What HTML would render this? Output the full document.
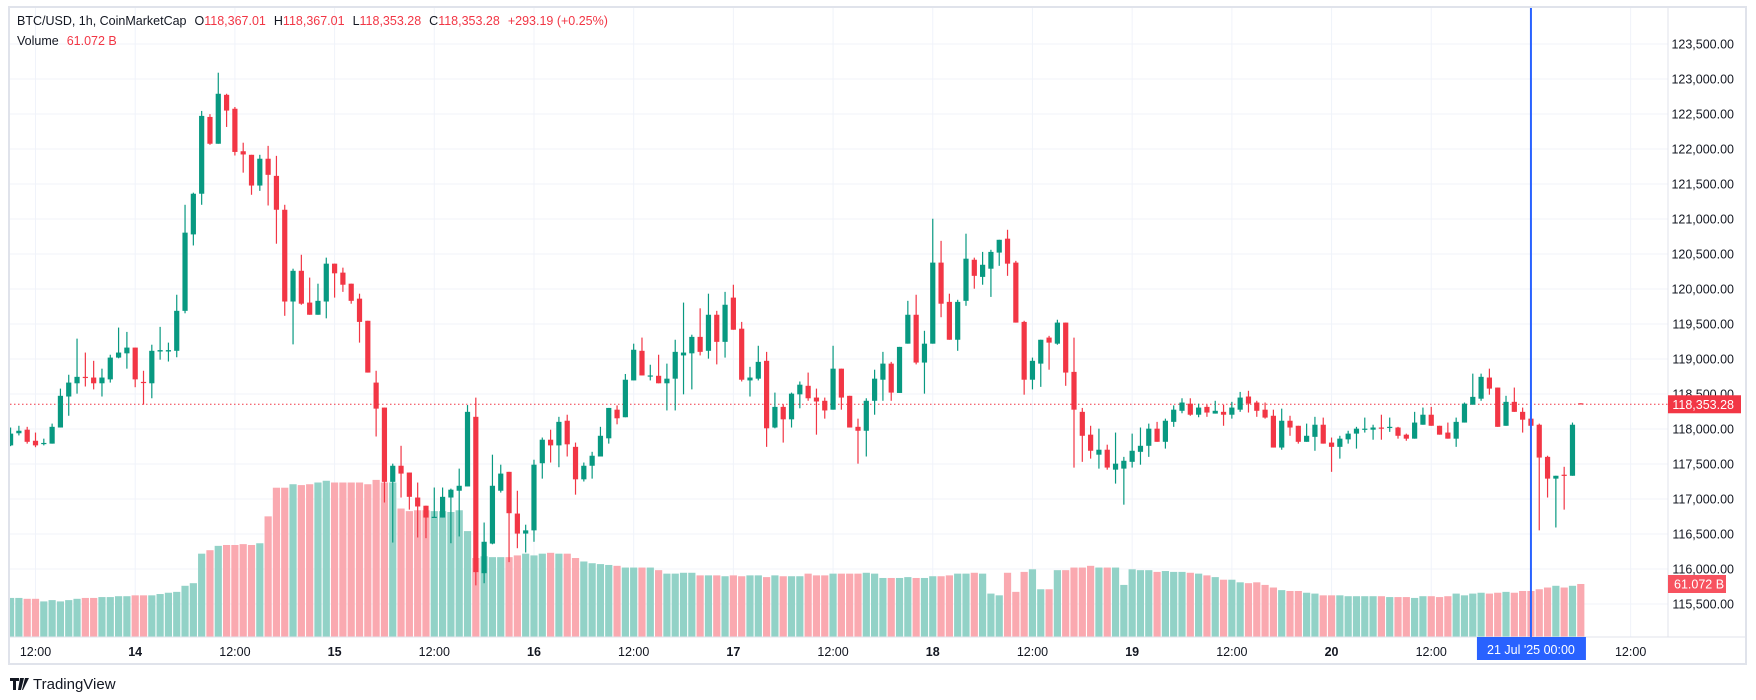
<!DOCTYPE html>
<html><head><meta charset="utf-8"><style>
html,body{margin:0;padding:0;background:#fff;}
svg{display:block;font-family:"Liberation Sans",Arial,sans-serif;}
</style></head><body>
<svg id="chart" width="1756" height="700" viewBox="0 0 1756 700" xmlns="http://www.w3.org/2000/svg">
<defs><clipPath id="plotclip"><rect x="10" y="8" width="1658" height="629"/></clipPath></defs>
<rect x="9" y="7" width="1737" height="657" fill="#fff" stroke="#e0e3eb" stroke-width="2"/>
<g id="grid"></g>
<g id="vol" clip-path="url(#plotclip)"></g>
<g id="candles" clip-path="url(#plotclip)"></g>
<line x1="10" y1="637" x2="1746" y2="637" stroke="#e0e3eb" stroke-width="1"/>
<line x1="1668" y1="8" x2="1668" y2="637" stroke="#e0e3eb" stroke-width="1"/>
<line id="cursorline" x1="1531" y1="8" x2="1531" y2="637" stroke="#2962ff" stroke-width="2"/>
<g id="yaxis"></g>
<g id="xaxis"></g>
<g id="tags"></g>
<text x="17" y="25" font-size="12.5" fill="#131722">BTC/USD, 1h, CoinMarketCap<tspan dx="8">O</tspan><tspan fill="#f23645">118,367.01</tspan><tspan dx="8">H</tspan><tspan fill="#f23645">118,367.01</tspan><tspan dx="8">L</tspan><tspan fill="#f23645">118,353.28</tspan><tspan dx="8">C</tspan><tspan fill="#f23645">118,353.28</tspan><tspan dx="8" fill="#f23645">+293.19 (+0.25%)</tspan></text>
<text x="17" y="45" font-size="12.5" fill="#131722">Volume<tspan dx="8" fill="#f23645">61.072 B</tspan></text>
<g>
<path d="M10 678 h9 v3 h-3 v9 h-3 v-9 h-3z M20 678 h4 l-3 12 h-3z M25 678 h4 l-6 12 h-1z" fill="#131722"/>
<text x="33" y="689" font-size="15" fill="#131722">TradingView</text>
</g>
</svg>
<script>
const opens=[117766,117939,117990,117832,117791,117791,118021,118464,118653,118745,118735,118653,118709,119020,119081,119163,118673,118653,119107,119107,119117,119688,120780,121361,122458,122075,122774,122575,121968,121917,121478,121861,121616,121132,119821,120260,119806,119632,119821,120362,120234,120076,119862,119546,118663,118306,117245,117475,117378,117021,116904,116735,116735,117021,117118,117179,118174,115940,116363,117118,117388,116792,116506,116552,117511,117847,117766,118118,117745,117281,117475,117607,117867,118276,118168,118694,119117,118750,118760,118653,118719,119051,119081,119316,119117,119632,119245,119877,119433,118694,118719,118974,118021,118316,118138,118495,118617,118449,118403,118276,118862,118474,118031,117975,118403,118704,118934,118515,119219,119632,118949,119219,120377,119816,119275,119831,120418,120173,120290,120520,120719,120377,119530,118704,118934,119306,119219,119520,118816,118245,117919,117633,117704,117419,117434,117531,117674,117760,118005,117817,118102,118260,118362,118204,118316,118220,118245,118204,118276,118464,118378,118276,118189,117735,118118,118046,117817,117888,118061,117806,117745,117852,117934,117990,117990,118021,118021,118021,117919,117862,118061,118204,118046,117949,117862,118092,118347,118433,118735,118592,118046,118388,118245,118148,118061,117602,117291,117347,117332,118367];
const closes=[117934,117975,117817,117766,117801,118031,118474,118663,118745,118735,118653,118735,119020,119092,119163,118709,118663,119117,119127,119127,119688,120805,121361,122473,122075,122789,122549,121958,121922,121478,121861,121631,121132,119821,120260,119790,119632,119831,120362,120224,120061,119831,119530,118806,118291,117245,117475,117363,117031,116893,116735,116746,117031,117133,117189,118245,115955,116389,117189,117363,116797,116506,116552,117490,117847,117766,118102,117781,117281,117475,117618,117903,118301,118153,118704,119132,118765,118765,118653,118719,119102,119092,119316,119102,119632,119245,119775,119418,118704,118735,118959,118010,118316,118138,118505,118633,118439,118393,118265,118862,118449,118021,117975,118403,118719,118934,118520,119173,119632,118949,119219,120377,119790,119275,119816,120433,120188,120346,120530,120703,120362,119520,118704,118974,119275,119234,119520,118806,118276,117903,117689,117704,117449,117505,117546,117689,117760,118005,117817,118118,118276,118378,118204,118306,118235,118260,118204,118306,118449,118362,118260,118163,117735,118118,118021,117817,117903,118061,117791,117745,117862,117934,118005,118005,118021,118010,118031,117903,117862,118092,118204,118046,117919,117862,118102,118362,118459,118745,118577,118031,118388,118245,118133,118046,117592,117291,117332,117332,118061,118353];
const highs=[118021,118046,118031,117949,117862,118077,118577,118775,119291,119092,118974,118862,119061,119449,119387,119163,118832,119204,119459,119234,119918,121203,121376,122544,122498,123090,122789,122600,122090,121917,121917,122045,121902,121203,120290,120489,120163,120076,120448,120362,120305,120076,119933,119546,118832,118306,117505,117760,117378,117235,116904,117164,117164,117148,117434,118342,118449,116664,117633,117490,117388,117118,116633,117561,117878,117990,118174,118204,117806,117521,117674,118031,118301,118337,118786,119219,119306,118918,119061,118934,119275,119806,119347,119724,119933,119688,119959,120061,119530,118888,119189,119102,118520,118352,118520,118679,118806,118577,118449,119189,118862,118474,118148,118439,118847,119102,118959,119173,119831,119918,119403,121004,120688,119933,119846,120790,120448,120530,120560,120703,120846,120402,119546,119020,119275,119331,119561,119520,119306,118301,118046,118005,117776,117949,117602,117934,118021,118077,118102,118148,118337,118439,118439,118362,118347,118403,118347,118388,118530,118546,118403,118378,118276,118291,118189,118046,118077,118174,118163,117878,117903,117975,118031,118163,118061,118204,118163,118031,117934,118245,118306,118316,118046,118092,118163,118378,118791,118791,118862,118592,118474,118592,118306,118148,118077,117618,117332,117460,118092,118367];
const lows=[117755,117908,117791,117740,117766,117791,118021,118189,118505,118607,118566,118464,118663,119010,118862,118597,118347,118439,118990,118964,119025,119653,120622,121203,122060,122075,122315,121907,121662,121346,121402,121193,120647,119617,119209,119775,119632,119632,119581,119877,119959,119790,119234,118806,117893,116950,116378,117021,116848,116450,116440,116735,116735,116368,116465,117179,115766,115797,116353,117092,116098,116297,116236,116389,117291,117521,117454,117607,117062,117250,117291,117607,117791,118067,118168,118694,118765,118694,118653,118265,118265,118495,118566,119051,119005,118923,119020,119418,118679,118464,118694,117745,118010,117806,118021,118296,118403,117919,118148,118276,118276,118021,117505,117607,118204,118403,118403,118515,119219,118923,118505,119219,119597,119275,119117,119760,120004,120061,119887,120331,120188,119520,118490,118566,118602,118847,119204,118617,117449,117531,117577,117434,117419,117220,116919,117449,117490,117602,117817,117720,118031,118225,118189,118168,118174,118220,118046,118148,118245,118235,118174,118148,117735,117704,117903,117791,117817,117689,117791,117388,117577,117791,117720,117949,117847,117847,117959,117862,117832,117862,118061,118046,117919,117862,117745,118092,118347,118403,118490,118031,118046,118245,117949,117878,116552,117021,116593,116848,117332,118353];
const volumes=[45,45,44,44,41,42.5,41,42.5,44,45,45,46,46,47,47,48,48,48,49.5,51,52,59,62,96,100,105,106,106,107,106,108,139,172,172,176,175,176,178,180,178,178,178,178,176,181,178,178,148,145,146,146,145,145,144,146,122,91,93,92,92,92,94,96,94,96,97,96,96,91,87,85,84,83,82,80,80,80,80,77,73,73,74,74,71,71,71,70,71,70,71,71,69,71,70,70,70,73,71,71,73,73,73,73,74,73,68,68,68,69,68,68,70,70,71,73,73,74,73,50,48,74,52,75,78,55,55,77,77,80,80,82,80,80,80,60,78,77,77,75,76,75,75,74,73,71,69,66,66,63,62,63,60,57,54,53,53,51,50,48,48,48,47,47,47,47,47,46,46,46,45,47,47,46,47,50,48,50,51,50,51,52,51,53,53,55,57,59,57,59,61.072];
const priceTicks=[115500,116000,116500,117000,117500,118000,118500,119000,119500,120000,120500,121000,121500,122000,122500,123000,123500];
const timeTickHours=[3,15,27,39,51,63,75,87,99,111,123,135,147,159,171,183,195];
const timeTickLabels=["12:00","14","12:00","15","12:00","16","12:00","17","12:00","18","12:00","19","12:00","20","12:00","","12:00"];
const lastPrice=118353.28;
const lastVolumeLabel="61.072 B";
const cursorIndex=183;

const NS="http://www.w3.org/2000/svg";
function xAt(i){return 35.5+(i-3)*8.308;}
function yP(p){return 394+(118500-p)*0.07;}
function yV(v){return 637-v*0.868;}
function mk(tag,attrs,parent){const e=document.createElementNS(NS,tag);for(const k in attrs)e.setAttribute(k,attrs[k]);parent.appendChild(e);return e;}
const fmt=v=>v.toLocaleString("en-US",{minimumFractionDigits:2,maximumFractionDigits:2});

const grid=document.getElementById("grid");
priceTicks.forEach(p=>{const l=mk("line",{x1:10,x2:1668,y1:yP(p),y2:yP(p),stroke:"#f0f3fa","stroke-width":1},grid);

});
timeTickHours.forEach(h=>{const l=mk("line",{x1:xAt(h),x2:xAt(h),y1:8,y2:637,stroke:"#f0f3fa","stroke-width":1},grid);

});

const vol=document.getElementById("vol");
volumes.forEach((v,i)=>{const up=closes[i]>=opens[i];const r=mk("rect",{x:xAt(i)-3.6,y:yV(v),width:7.2,height:637-yV(v),fill:up?"#92d2c7":"#faa9b0"},vol);

});

const cg=document.getElementById("candles");
const lpl=mk("line",{x1:10,x2:1668,y1:yP(lastPrice),y2:yP(lastPrice),stroke:"#f23645","stroke-width":1,"stroke-dasharray":"1.5 2.5"},cg);


opens.forEach((o,i)=>{const c=closes[i];const up=c>=o;const col=up?"#089981":"#f23645";const x=xAt(i);
const g=mk("g",{},cg);


mk("line",{x1:x,x2:x,y1:yP(highs[i]),y2:yP(lows[i]),stroke:col,"stroke-width":1.2},g);
const top=yP(Math.max(o,c)),bot=yP(Math.min(o,c));
mk("rect",{x:x-2.6,y:top,width:5.2,height:Math.max(1.2,bot-top),fill:col},g);});

const ya=document.getElementById("yaxis");
priceTicks.forEach(p=>{const t=mk("text",{x:1734,y:yP(p)+4.5,"text-anchor":"end","font-size":12.5,fill:"#131722"},ya);t.textContent=fmt(p);

});

const xa=document.getElementById("xaxis");
timeTickHours.forEach((h,k)=>{if(!timeTickLabels[k])return;const day=!timeTickLabels[k].includes(":");
const t=mk("text",{x:xAt(h),y:656,"text-anchor":"middle","font-size":12.5,fill:"#131722","font-weight":day?"bold":"normal"},xa);t.textContent=timeTickLabels[k];

});

const tags=document.getElementById("tags");
const cx=xAt(cursorIndex);
document.getElementById("cursorline").setAttribute("x1",cx);
document.getElementById("cursorline").setAttribute("x2",cx);
const tb=mk("rect",{x:cx-54,y:637,width:109,height:23,fill:"#2962ff"},tags);


const tt=mk("text",{x:cx,y:654,"text-anchor":"middle","font-size":12.5,fill:"#fff"},tags);tt.textContent="21 Jul '25   00:00";tt.setAttribute("xml:space","preserve");


const pr=mk("rect",{x:1668,y:yP(lastPrice)-9,width:73,height:18,fill:"#f23645"},tags);


const pt=mk("text",{x:1734,y:yP(lastPrice)+4.5,"text-anchor":"end","font-size":12.5,fill:"#fff"},tags);pt.textContent=fmt(lastPrice);


const lv=volumes[volumes.length-1];
const vr=mk("rect",{x:1668,y:yV(lv)-9,width:58,height:18,fill:"#f7525f"},tags);


const vt=mk("text",{x:1674,y:yV(lv)+4.5,"font-size":12.5,fill:"#fff"},tags);vt.textContent=lastVolumeLabel;


</script>
</body></html>
